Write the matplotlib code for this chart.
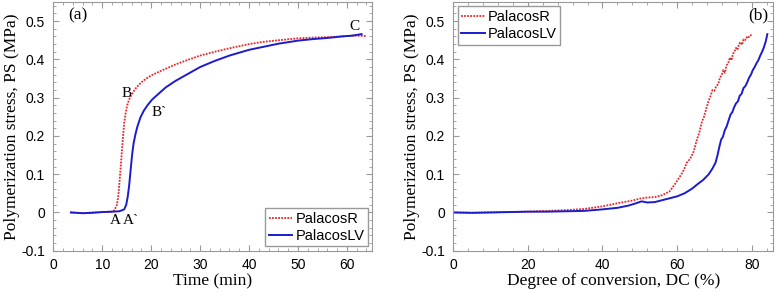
import matplotlib
matplotlib.use('Agg')
import matplotlib.pyplot as plt
from matplotlib.ticker import MultipleLocator

# (a) stress vs time
t_r = [3.5, 6, 8, 10, 12, 12.5, 13, 13.3, 13.6, 13.9, 14.2, 14.5, 14.8, 15.1, 15.5, 16, 16.5,
       17, 18, 19, 20, 22, 25, 28, 30, 33, 36, 40, 43, 46, 50, 53, 56, 60, 62, 64]
ps_r = [0, -0.002, 0, 0.001, 0.002, 0.006, 0.02, 0.045, 0.09, 0.14, 0.19, 0.235, 0.26, 0.28, 0.295,
        0.308, 0.318, 0.327, 0.34, 0.35, 0.358, 0.37, 0.387, 0.401, 0.41, 0.42, 0.429, 0.44,
        0.446, 0.45, 0.455, 0.457, 0.458, 0.461, 0.462, 0.461]
t_lv = [3.6, 6, 8, 10, 12, 13.5, 14.5, 14.9, 15.2, 15.5, 15.8, 16.1, 16.4, 16.8, 17.2, 17.8, 18.5,
        19.3, 20.2, 21.5, 23, 25, 27.5, 30, 33, 36, 40, 43, 46, 50, 53, 56, 59, 61, 63]
ps_lv = [0, -0.002, -0.001, 0.001, 0.002, 0.003, 0.008, 0.02, 0.04, 0.07, 0.11, 0.15, 0.18, 0.205,
         0.225, 0.248, 0.266, 0.281, 0.295, 0.31, 0.327, 0.344, 0.362, 0.38, 0.396, 0.41, 0.425,
         0.433, 0.441, 0.449, 0.453, 0.456, 0.46, 0.462, 0.466]

# (b) stress vs degree of conversion
dc_r = [0, 5, 10, 15, 20, 25, 30, 35, 40, 44, 48, 50, 52, 54, 56, 58, 59.5, 60.5, 61.5, 62.2, 62.6,
        63.5, 64.5, 65.3, 66, 66.6, 67.2, 67.8, 68.4, 69, 69.5, 70, 70.5, 71, 71.5, 72, 72.4,
        72.8, 73.3, 73.7, 74.2, 74.6, 75, 75.4, 75.8, 76.2, 76.6, 77, 77.4, 77.8, 78.2, 78.6,
        79, 79.5, 80]
ps_r2 = [0, -0.001, 0, 0.001, 0.002, 0.004, 0.006, 0.009, 0.016, 0.024, 0.031, 0.036, 0.039, 0.040,
         0.045, 0.055, 0.075, 0.09, 0.105, 0.12, 0.13, 0.14, 0.16, 0.19, 0.21, 0.235, 0.25, 0.27,
         0.29, 0.305, 0.32, 0.318, 0.33, 0.335, 0.352, 0.36, 0.372, 0.365, 0.385, 0.39, 0.405,
         0.398, 0.415, 0.42, 0.43, 0.425, 0.44, 0.445, 0.438, 0.452, 0.45, 0.458, 0.455, 0.463,
         0.463]
dc_lv = [0, 5, 10, 15, 20, 25, 30, 35, 40, 44, 47, 49, 50.5, 52, 54, 56, 58, 60, 62, 64, 65.5, 67,
         68.5, 69.5, 70.3, 70.8, 71.3, 71.8, 72.3, 72.8, 73.3, 73.8, 74.3, 74.8, 75.3, 75.8,
         76.3, 76.8, 77.3, 77.8, 78.3, 78.8, 79.3, 79.8, 80.3, 80.8, 81.3, 81.8, 82.3, 82.8,
         83.3, 83.8, 84.2]
ps_lv2 = [0, -0.001, 0, 0.001, 0.002, 0.002, 0.003, 0.004, 0.008, 0.012, 0.018, 0.024, 0.029,
          0.026, 0.027, 0.032, 0.037, 0.042, 0.05, 0.062, 0.074, 0.085, 0.1, 0.115, 0.13, 0.148,
          0.17, 0.19, 0.198, 0.215, 0.225, 0.24, 0.255, 0.262, 0.275, 0.285, 0.29, 0.305, 0.31,
          0.325, 0.33, 0.34, 0.352, 0.36, 0.372, 0.38, 0.39, 0.398, 0.41, 0.42, 0.432, 0.448,
          0.466]

red = '#e8262a'
blue = '#1c1ccc'
serif = 'Liberation Serif'
sans = 'Liberation Sans'
dotted = (0, (1, 0.7))

fig = plt.figure(figsize=(7.75, 2.92), dpi=100)
ax1 = fig.add_axes([53.3 / 775, 41.3 / 292, 319 / 775, 248.7 / 292])
ax2 = fig.add_axes([453.3 / 775, 41.3 / 292, 320 / 775, 248.7 / 292])

ax1.plot(t_r, ps_r, color=red, ls=dotted, lw=1.3, label='PalacosR')
ax1.plot(t_lv, ps_lv, color=blue, ls='-', lw=1.4, label='PalacosLV')
ax2.plot(dc_r, ps_r2, color=red, ls=dotted, lw=1.3, label='PalacosR')
ax2.plot(dc_lv, ps_lv2, color=blue, ls='-', lw=1.4, label='PalacosLV')

ax1.set_xlim(0, 65.2)
ax1.xaxis.set_major_locator(MultipleLocator(10))
ax1.xaxis.set_minor_locator(MultipleLocator(2))
ax1.set_xlabel('Time (min)', family=serif, fontsize=12.5, labelpad=1)
ax2.set_xlim(0, 85.8)
ax2.xaxis.set_major_locator(MultipleLocator(20))
ax2.xaxis.set_minor_locator(MultipleLocator(4))
ax2.set_xlabel('Degree of conversion, DC (%)', family=serif, fontsize=12.5, labelpad=1)

for ax in (ax1, ax2):
    ax.set_ylim(-0.1, 0.55)
    ax.yaxis.set_minor_locator(MultipleLocator(0.02))
    ax.set_yticks([-0.1, 0, 0.1, 0.2, 0.3, 0.4, 0.5])
    ax.set_yticklabels(['-0.1', '0', '0.1', '0.2', '0.3', '0.4', '0.5'])
    ax.tick_params(which='both', direction='in', top=True, right=True, color='#999999',
                   labelsize=10)
    ax.tick_params(axis='y', pad=6)
    ax.tick_params(axis='x', pad=5)
    ax.tick_params(which='major', length=4)
    ax.tick_params(which='minor', length=2)
    for lab in ax.get_xticklabels() + ax.get_yticklabels():
        lab.set_fontfamily(sans)
    for s in ax.spines.values():
        s.set_color('#999999')
        s.set_linewidth(0.8)
    ax.set_ylabel('Polymerization stress, PS (MPa)', family=serif, fontsize=12.5, labelpad=1)

ax1.text(3.0, 0.515, '(a)', family=serif, fontsize=12.5, va='center')
ax2.text(84.6, 0.515, '(b)', family=serif, fontsize=12.5, ha='right', va='center')
ax1.text(12.7, -0.022, 'A', family=serif, fontsize=11, ha='center', va='center')
ax1.text(15.9, -0.022, 'A`', family=serif, fontsize=11, ha='center', va='center')
ax1.text(15.0, 0.31, 'B', family=serif, fontsize=11, ha='center', va='center')
ax1.text(21.7, 0.26, 'B`', family=serif, fontsize=11, ha='center', va='center')
ax1.text(61.6, 0.487, 'C', family=serif, fontsize=11, ha='center', va='center')

leg_kw = dict(prop={'family': sans, 'size': 10.5}, fancybox=False, framealpha=1,
              edgecolor='#999999', handlelength=1.6, borderpad=0.25, labelspacing=0.2,
              handletextpad=0.2, borderaxespad=0.3)
ax1.legend(loc='lower right', **leg_kw)
ax2.legend(loc='upper left', **leg_kw)

fig.savefig('out.png', dpi=100)
